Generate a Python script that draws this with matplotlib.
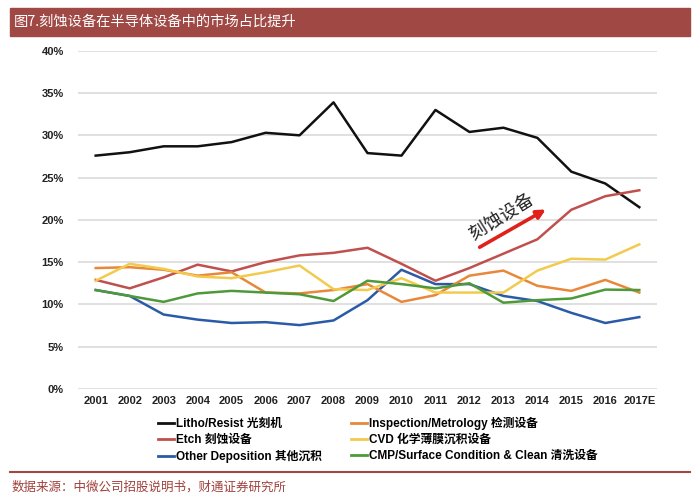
import matplotlib
matplotlib.use("Agg")
import matplotlib.pyplot as plt
from matplotlib.patches import Rectangle
from matplotlib.lines import Line2D

plt.rcParams['font.family'] = ['Liberation Sans', 'Noto Sans CJK SC', 'DejaVu Sans']

years = ['2001', '2002', '2003', '2004', '2005', '2006', '2007', '2008', '2009',
         '2010', '2011', '2012', '2013', '2014', '2015', '2016', '2017E']

litho = [27.6, 28.0, 28.7, 28.7, 29.2, 30.3, 30.0, 33.9, 27.9, 27.6, 33.0,
         30.4, 30.9, 29.7, 25.7, 24.3, 21.5]
inspection = [14.3, 14.4, 14.1, 13.4, 13.8, 11.4, 11.3, 11.7, 12.4, 10.3, 11.1,
              13.4, 14.0, 12.2, 11.6, 12.9, 11.4]
etch = [12.9, 11.9, 13.2, 14.7, 13.9, 15.0, 15.8, 16.1, 16.7, 14.8, 12.8,
        14.3, 16.0, 17.7, 21.2, 22.8, 23.5]
cvd = [12.8, 14.8, 14.2, 13.3, 13.1, 13.8, 14.6, 11.8, 11.7, 13.1, 11.4,
       11.4, 11.4, 14.0, 15.4, 15.3, 17.1]
other_dep = [11.7, 11.0, 8.8, 8.2, 7.8, 7.9, 7.55, 8.1, 10.5, 14.1, 12.4,
             12.4, 11.0, 10.4, 9.0, 7.8, 8.5]
cmp_clean = [11.7, 11.0, 10.3, 11.3, 11.6, 11.4, 11.2, 10.4, 12.8, 12.4, 11.9,
             12.5, 10.2, 10.5, 10.7, 11.75, 11.7]

series = [
    ('Litho/Resist 光刻机', litho, '#111111'),
    ('Etch 刻蚀设备', etch, '#C0504D'),
    ('Other Deposition 其他沉积', other_dep, '#2B5BA6'),
    ('Inspection/Metrology 检测设备', inspection, '#E8883A'),
    ('CVD 化学薄膜沉积设备', cvd, '#F2CB4E'),
    ('CMP/Surface Condition & Clean 清洗设备', cmp_clean, '#4E9A3A'),
]

title = '图7.刻蚀设备在半导体设备中的市场占比提升'
source = '数据来源：中微公司招股说明书，财通证券研究所'
note = '刻蚀设备'
arrow_from = (11.23, 16.6)
arrow_to = (13.32, 21.4)
note_pos = (11.95, 20.3)

fig = plt.figure(figsize=(7, 4.98), dpi=100)
ax = fig.add_axes([0.111, 0.219, 0.828, 0.679])

x = list(range(len(years)))
handles = []
for label, vals, color in series:
    ax.plot(x, vals, color=color, lw=1.8, label=label, zorder=3)
    handles.append(Line2D([], [], color=color, lw=2))

ax.set_xlim(-0.53, 16.53)
ax.set_ylim(0, 40)
ax.set_yticks(range(0, 41, 5))
ax.set_yticklabels([f'{v}%' for v in range(0, 41, 5)])
ax.set_xticks(x)
ax.set_xticklabels(years)
ax.grid(axis='y', color='#DADADA', lw=1.2)
ax.set_axisbelow(True)
for s in ax.spines.values():
    s.set_visible(False)
ax.tick_params(length=0, labelsize=8, labelcolor='#222222', pad=5)
for t in ax.get_xticklabels() + ax.get_yticklabels():
    t.set_fontweight('bold')
ax.tick_params(axis='y', pad=10)

ax.annotate('', xy=arrow_to, xytext=arrow_from,
            arrowprops=dict(arrowstyle='-|>', color='#E0201A', lw=2.6,
                            mutation_scale=13))
ax.text(note_pos[0], note_pos[1], note, rotation=32, ha='center', va='center',
        fontsize=13, color='#222222', family=['Noto Sans CJK SC'])

fig.legend(handles, [s[0] for s in series], loc='upper left',
           bbox_to_anchor=(0.226, 0.163), ncol=2, frameon=False,
           handlelength=1.3, handletextpad=0.2, labelspacing=0.35,
           columnspacing=2.5, borderaxespad=0, borderpad=0,
           prop=dict(size=8.5, weight='bold'))

# title bar
fig.patches.append(Rectangle((10 / 700, 1 - 36 / 498), 680 / 700, 28 / 498,
                             transform=fig.transFigure, color='#A04844',
                             zorder=0))
fig.text(14 / 700, 1 - 22 / 498, title, color='white', fontsize=10.3,
         va='center', ha='left', family=['Noto Sans CJK SC'])

# separator and source
fig.add_artist(Line2D([10 / 700, 690 / 700], [1 - 472 / 498, 1 - 472 / 498],
                      transform=fig.transFigure, color='#A04844', lw=1.5))
fig.text(12 / 700, 1 - 487 / 498, source, color='#A0403B', fontsize=9,
         va='center', ha='left', family=['Noto Sans CJK SC'])

fig.savefig('out.png', dpi=100)
